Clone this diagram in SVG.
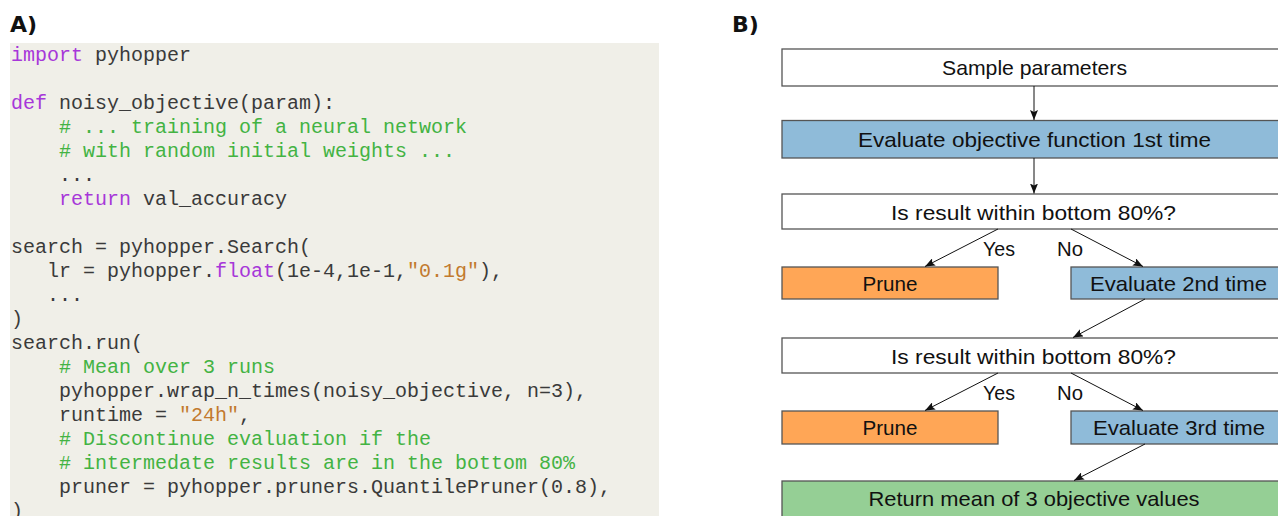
<svg xmlns="http://www.w3.org/2000/svg" width="1278" height="516" viewBox="0 0 1278 516">
<style>
.lbl{font-family:"DejaVu Sans",sans-serif;font-weight:bold;font-size:22px;fill:#111}
.code{font-family:"Liberation Mono",monospace;font-size:20px;fill:#3a3a3a;white-space:pre}
.kw{fill:#A737D9}
.cm{fill:#43B343}
.st{fill:#C27A2E}
.box{stroke:#555;stroke-width:1.3}
.w{fill:#fff}
.b{fill:#8FBBD9}
.o{fill:#FFA656}
.g{fill:#95CF95}
.t{font-family:"Liberation Sans",Arial,sans-serif;font-size:21px;fill:#111;text-anchor:middle}
.yn{font-family:"Liberation Sans",Arial,sans-serif;font-size:21px;fill:#111}
.arr{stroke:#111;stroke-width:1;fill:none;marker-end:url(#ah)}
</style>
<defs>
<marker id="ah" viewBox="0 0 10 8" refX="10" refY="4" markerWidth="10" markerHeight="8" markerUnits="userSpaceOnUse" orient="auto">
<path d="M0,0 L10,4 L0,8 L2,4 Z" fill="#111"/>
</marker>
</defs>
<rect width="1278" height="516" fill="#fff"/>
<text class="lbl" x="10" y="32">A)</text>
<text class="lbl" x="732" y="32">B)</text>
<g id="code">
<rect x="10" y="43" width="649" height="480" fill="#F0EFE8"/>
<text class="code" x="11" y="61"><tspan class="kw">import</tspan> pyhopper</text>
<text class="code" x="11" y="109"><tspan class="kw">def</tspan> noisy_objective(param):</text>
<text class="code" x="59" y="133"><tspan class="cm"># ... training of a neural network</tspan></text>
<text class="code" x="59" y="157"><tspan class="cm"># with random initial weights ...</tspan></text>
<text class="code" x="59" y="181">...</text>
<text class="code" x="59" y="205"><tspan class="kw">return</tspan> val_accuracy</text>
<text class="code" x="11" y="253">search = pyhopper.Search(</text>
<text class="code" x="47" y="277">lr = pyhopper.<tspan class="kw">float</tspan>(1e-4,1e-1,<tspan class="st">"0.1g"</tspan>),</text>
<text class="code" x="47" y="301">...</text>
<text class="code" x="11" y="325">)</text>
<text class="code" x="11" y="349">search.run(</text>
<text class="code" x="59" y="373"><tspan class="cm"># Mean over 3 runs</tspan></text>
<text class="code" x="59" y="397">pyhopper.wrap_n_times(noisy_objective, n=3),</text>
<text class="code" x="59" y="421">runtime = <tspan class="st">"24h"</tspan>,</text>
<text class="code" x="59" y="445"><tspan class="cm"># Discontinue evaluation if the</tspan></text>
<text class="code" x="59" y="469"><tspan class="cm"># intermedate results are in the bottom 80%</tspan></text>
<text class="code" x="59" y="493">pruner = pyhopper.pruners.QuantilePruner(0.8),</text>
<text class="code" x="11" y="517">)</text>
</g>
<g id="n_sample"><rect class="box w" x="782" y="49" width="504" height="37"/><text class="t" x="1034.5" y="75" textLength="185" lengthAdjust="spacingAndGlyphs">Sample parameters</text></g>
<g id="n_eval1"><rect class="box b" x="782" y="120.5" width="504" height="37.5"/><text class="t" x="1034.5" y="146.5" textLength="353" lengthAdjust="spacingAndGlyphs">Evaluate objective function 1st time</text></g>
<g id="n_q1"><rect class="box w" x="782" y="194" width="504" height="35"/><text class="t" x="1033.5" y="219.5" textLength="285" lengthAdjust="spacingAndGlyphs">Is result within bottom 80%?</text></g>
<g id="n_prune1"><rect class="box o" x="782" y="267" width="216" height="32"/><text class="t" x="890" y="290.5" textLength="55" lengthAdjust="spacingAndGlyphs">Prune</text></g>
<g id="n_eval2"><rect class="box b" x="1071" y="267" width="215" height="32"/><text class="t" x="1178.5" y="290.5" textLength="177" lengthAdjust="spacingAndGlyphs">Evaluate 2nd time</text></g>
<g id="n_q2"><rect class="box w" x="782" y="338" width="504" height="35"/><text class="t" x="1033.5" y="363.5" textLength="285" lengthAdjust="spacingAndGlyphs">Is result within bottom 80%?</text></g>
<g id="n_prune2"><rect class="box o" x="782" y="411" width="216" height="33"/><text class="t" x="890" y="435" textLength="55" lengthAdjust="spacingAndGlyphs">Prune</text></g>
<g id="n_eval3"><rect class="box b" x="1071" y="411" width="215" height="33"/><text class="t" x="1179" y="435" textLength="172" lengthAdjust="spacingAndGlyphs">Evaluate 3rd time</text></g>
<g id="n_return"><rect class="box g" x="782" y="481" width="504" height="40"/><text class="t" x="1034" y="506" textLength="331" lengthAdjust="spacingAndGlyphs">Return mean of 3 objective values</text></g>
<g id="connectors">
<line class="arr" x1="1034" y1="86" x2="1034" y2="120"/>
<line class="arr" x1="1034" y1="158" x2="1034" y2="193.5"/>
<line class="arr" x1="998" y1="229" x2="925" y2="266.5"/>
<line class="arr" x1="1071" y1="229" x2="1143" y2="266.5"/>
<line class="arr" x1="1145" y1="299" x2="1073" y2="337.5"/>
<line class="arr" x1="998" y1="373" x2="925" y2="410.5"/>
<line class="arr" x1="1071" y1="373" x2="1143" y2="410.5"/>
<line class="arr" x1="1145" y1="444" x2="1074" y2="480.5"/>
<text class="yn" x="983" y="256" textLength="32" lengthAdjust="spacingAndGlyphs">Yes</text>
<text class="yn" x="1057" y="256" textLength="26" lengthAdjust="spacingAndGlyphs">No</text>
<text class="yn" x="983" y="400" textLength="32" lengthAdjust="spacingAndGlyphs">Yes</text>
<text class="yn" x="1057" y="400" textLength="26" lengthAdjust="spacingAndGlyphs">No</text>
</g>
</svg>
